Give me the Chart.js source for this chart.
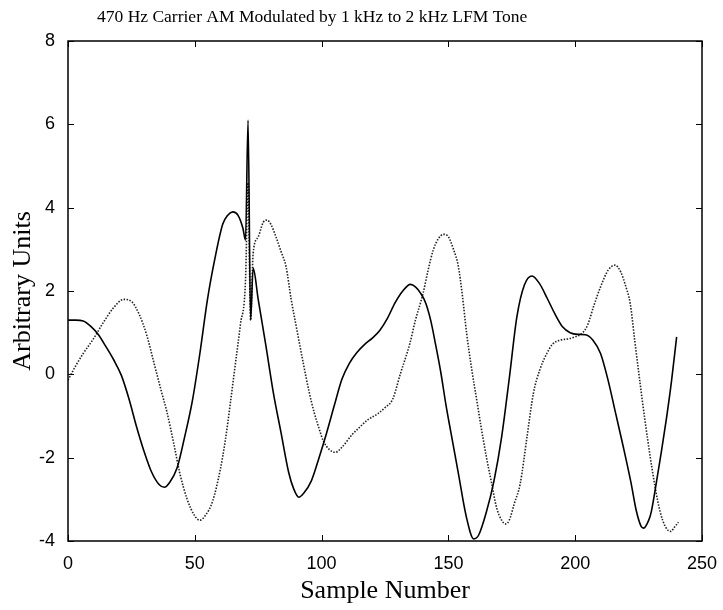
<!DOCTYPE html>
<html>
<head>
<meta charset="utf-8">
<script src="https://cdn.jsdelivr.net/npm/chart.js@4.4.1/dist/chart.umd.min.js"></script>
<style>
  html, body { margin: 0; padding: 0; background: #ffffff; }
  #wrap { width: 723px; height: 610px; position: relative; }
</style>
</head>
<body>
<div id="wrap"><canvas id="c" width="723" height="610"></canvas></div>
<script>
// ---- Data ----
const chartTitle = "470 Hz Carrier AM Modulated by 1 kHz to 2 kHz LFM Tone";
const xAxisTitle = "Sample Number";
const yAxisTitle = "Arbitrary Units";
const xTickValues = [0, 50, 100, 150, 200, 250];
const yTickValues = [-4, -2, 0, 2, 4, 6, 8];

// Solid trace
const solidSamples = [0, 3, 6, 9, 12, 15, 18, 21, 24, 27, 30, 33, 36, 38, 40, 43, 46, 49, 52, 55, 58, 61, 63, 65, 67, 69, 70, 71, 72, 73, 75, 78, 81, 84, 87, 89, 91, 93, 96, 99, 102, 105, 108, 111, 114, 117, 120, 123, 126, 129, 132, 135, 137, 139, 141, 143, 145, 147, 149, 151, 154, 157, 160, 162, 165, 168, 171, 174, 177, 180, 183, 186, 189, 192, 195, 198, 201, 204, 207, 210, 213, 216, 219, 222, 224, 226, 227, 229, 230, 232, 234, 236, 238, 240];
const solidValues  = [1.3, 1.3, 1.28, 1.15, 0.95, 0.66, 0.35, -0.02, -0.58, -1.25, -1.85, -2.35, -2.65, -2.71, -2.6, -2.25, -1.5, -0.65, 0.5, 1.8, 2.8, 3.6, 3.82, 3.9, 3.82, 3.5, 3.22, 6.1, 1.3, 2.55, 1.8, 0.7, -0.45, -1.4, -2.35, -2.75, -2.95, -2.85, -2.55, -2.0, -1.4, -0.75, -0.12, 0.27, 0.53, 0.72, 0.87, 1.06, 1.35, 1.72, 2.0, 2.16, 2.1, 1.95, 1.72, 1.3, 0.7, 0.05, -0.72, -1.4, -2.4, -3.4, -3.95, -3.85, -3.3, -2.55, -1.5, -0.1, 1.38, 2.15, 2.36, 2.17, 1.82, 1.45, 1.14, 1.0, 0.96, 0.95, 0.82, 0.5, -0.15, -0.95, -1.75, -2.6, -3.25, -3.65, -3.69, -3.5, -3.3, -2.6, -1.85, -1.05, -0.15, 0.9];

// Dotted trace
const dottedSamples = [0, 3, 6, 10, 14, 18, 22, 25, 28, 31, 34, 37, 39, 42, 44, 47, 50, 52, 54, 57, 60, 62, 64, 66, 68, 70, 71, 72, 73, 75, 77, 78.5, 80, 82, 84, 86, 88, 90, 92.8, 95, 97, 99, 100.6, 103, 105.5, 108, 112, 115, 118, 122, 125, 128, 131, 134.8, 137, 140, 142, 144, 146, 148, 150, 152, 153.9, 155.5, 157.2, 159, 161.2, 163, 165, 167, 169, 171, 172.5, 174, 176, 178.3, 181, 183.5, 186, 188.8, 191, 194, 197, 200, 203, 205, 207.2, 210, 213, 215.7, 218, 220, 221.7, 223.5, 225.6, 227.5, 229.6, 231.5, 233.5, 235.5, 237.7, 239, 240.7];
const dottedValues  = [-0.14, 0.2, 0.5, 0.85, 1.25, 1.6, 1.8, 1.75, 1.45, 0.95, 0.25, -0.45, -0.9, -1.75, -2.35, -3.0, -3.4, -3.5, -3.4, -3.05, -2.3, -1.6, -0.7, 0.25, 1.2, 2.26, 4.6, 1.3, 2.9, 3.3, 3.65, 3.7, 3.6, 3.3, 2.95, 2.58, 1.8, 1.15, 0.26, -0.4, -0.9, -1.3, -1.59, -1.8, -1.87, -1.75, -1.45, -1.27, -1.1, -0.95, -0.8, -0.6, 0.0, 0.74, 1.3, 1.94, 2.5, 2.98, 3.25, 3.36, 3.3, 3.0, 2.6, 1.9, 0.98, 0.2, -0.63, -1.3, -1.99, -2.6, -3.2, -3.5, -3.59, -3.5, -3.1, -2.63, -1.5, -0.46, 0.1, 0.5, 0.72, 0.82, 0.85, 0.9, 1.0, 1.2, 1.62, 2.1, 2.5, 2.62, 2.45, 2.1, 1.7, 0.8, -0.22, -1.1, -1.99, -2.7, -3.3, -3.65, -3.77, -3.68, -3.55];

const toPoints = (xs, ys) => xs.map((x, i) => ({ x: x, y: ys[i] }));

// Frame + inward ticks (MATLAB style), positions from the scales
const framePlugin = {
  id: 'frame',
  afterDraw(chart) {
    const { ctx, chartArea: a, scales } = chart;
    ctx.save();
    ctx.strokeStyle = '#000';
    ctx.lineWidth = 1.5;
    ctx.strokeRect(a.left, a.top, a.right - a.left, a.bottom - a.top);
    ctx.lineWidth = 1;
    const len = 6;
    ctx.beginPath();
    xTickValues.forEach(v => {
      const px = Math.round(scales.x.getPixelForValue(v)) + 0.5;
      ctx.moveTo(px, a.bottom); ctx.lineTo(px, a.bottom - len);
      ctx.moveTo(px, a.top); ctx.lineTo(px, a.top + len);
    });
    yTickValues.forEach(v => {
      const py = Math.round(scales.y.getPixelForValue(v)) + 0.5;
      ctx.moveTo(a.left, py); ctx.lineTo(a.left + len, py);
      ctx.moveTo(a.right, py); ctx.lineTo(a.right - len, py);
    });
    ctx.stroke();
    // title
    ctx.fillStyle = '#000';
    ctx.font = '17.5px "Liberation Serif", "Times New Roman", serif';
    ctx.textAlign = 'left';
    ctx.textBaseline = 'alphabetic';
    ctx.fillText(chartTitle, 97, 21.5);
    ctx.restore();
  }
};

const tickFont = { family: '"Liberation Sans", Arial, sans-serif', size: 18 };
const titleFont = { family: '"Liberation Serif", "Times New Roman", serif', size: 26 };

new Chart(document.getElementById('c'), {
  type: 'line',
  data: {
    datasets: [
      {
        label: 'solid',
        data: toPoints(solidSamples, solidValues),
        borderColor: '#000',
        borderWidth: 1.6,
        pointRadius: 0,
        cubicInterpolationMode: 'monotone',
        fill: false
      },
      {
        label: 'dotted',
        data: toPoints(dottedSamples, dottedValues),
        borderColor: '#222',
        borderWidth: 1.6,
        borderDash: [1.5, 1.5],
        pointRadius: 0,
        cubicInterpolationMode: 'monotone',
        fill: false
      }
    ]
  },
  options: {
    responsive: false,
    animation: false,
    events: [],
    layout: { padding: { top: 41, right: 21, left: 0, bottom: 0 } },
    plugins: { legend: { display: false }, tooltip: { enabled: false }, title: { display: false } },
    scales: {
      x: {
        type: 'linear',
        min: 0, max: 250,
        afterFit(s) { s.height = 69; s.paddingLeft = 0; s.paddingRight = 0; },
        afterBuildTicks(s) { s.ticks = xTickValues.map(v => ({ value: v })); },
        grid: { display: false },
        border: { display: false },
        ticks: { color: '#000', font: tickFont, padding: 4, maxRotation: 0 },
        title: { display: true, text: xAxisTitle, color: '#000', font: titleFont, padding: { top: 0, bottom: 3 } }
      },
      y: {
        type: 'linear',
        min: -4, max: 8,
        afterFit(s) { s.width = 68; },
        afterBuildTicks(s) { s.ticks = yTickValues.map(v => ({ value: v })); },
        grid: { display: false },
        border: { display: false },
        ticks: { color: '#000', font: tickFont, padding: 5 },
        title: { display: true, text: yAxisTitle, color: '#000', font: titleFont, padding: { top: 8, bottom: 0 } }
      }
    }
  },
  plugins: [framePlugin]
});
</script>
</body>
</html>
